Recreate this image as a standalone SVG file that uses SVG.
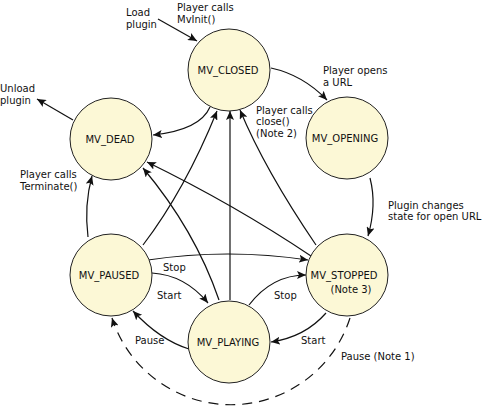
<svg xmlns="http://www.w3.org/2000/svg" width="482" height="407" viewBox="0 0 482 407">
<style>
.st{fill:#fcf8d6;stroke:#222;stroke-width:1}
text{font-family:"DejaVu Sans","Verdana",sans-serif;font-size:10px;fill:#111}
.c{text-anchor:middle}
.e{fill:none;stroke:#111;stroke-width:1.2;marker-end:url(#ah)}
.d{stroke-dasharray:10 7}
</style>
<defs>
<marker id="ah" markerUnits="userSpaceOnUse" markerWidth="10" markerHeight="8" refX="9" refY="4" orient="auto">
<path d="M0,0 L9,4 L0,8 L2,4 z" fill="#111"/>
</marker>
</defs>
<rect width="482" height="407" fill="#fff"/>
<g id="connectors">
<path class="e" d="M158,19 L197,41"/>
<path class="e" d="M73,120 L37,99"/>
<path class="e" d="M210,107 Q200,130 153,135"/>
<path class="e" d="M271,68 Q303,75 327,100"/>
<path class="e" d="M370,178 Q377,205 368,236"/>
<path class="e" d="M88,237 Q84,205 92,176"/>
<path class="e" d="M143,245 Q185,190 217,111"/>
<path class="e" d="M230,300 L230,111"/>
<path class="e" d="M219,300 Q195,230 143,168"/>
<path class="e" d="M311,256 Q235,205 147,162"/>
<path class="e" d="M316,245 Q265,170 240,110"/>
<path class="e" d="M148,260 Q228,248 308,260"/>
<path class="e" d="M152,273 Q185,275 208,303"/>
<path class="e" d="M249,305 Q272,275 306,275"/>
<path class="e" d="M326,313 Q305,337 271,342"/>
<path class="e" d="M189,349 Q160,340 133,311"/>
<path class="e d" d="M350,318 A125,125 0 0 1 112,318"/>
</g>
<g id="n-closed"><circle class="st" cx="229" cy="70" r="41"/><text class="c" x="228" y="73.5">MV_CLOSED</text></g>
<g id="n-dead"><circle class="st" cx="111" cy="139" r="41"/><text class="c" x="110" y="142.5">MV_DEAD</text></g>
<g id="n-opening"><circle class="st" cx="347" cy="138" r="41"/><text class="c" x="345" y="141.5">MV_OPENING</text></g>
<g id="n-paused"><circle class="st" cx="111" cy="275" r="41"/><text class="c" x="109" y="279">MV_PAUSED</text></g>
<g id="n-stopped"><circle class="st" cx="347" cy="275" r="41"/><text class="c" x="344" y="279">MV_STOPPED</text><text class="c" x="351" y="292.5">(Note 3)</text></g>
<g id="n-playing"><circle class="st" cx="229" cy="342" r="41"/><text class="c" x="228" y="346">MV_PLAYING</text></g>
<g id="labels">
<text x="126" y="16">Load</text><text x="126" y="28">plugin</text>
<text x="177" y="11">Player calls</text><text x="177" y="23">MvInit()</text>
<text x="0" y="92">Unload</text><text x="0" y="104">plugin</text>
<text x="323" y="73.5">Player opens</text><text x="323" y="86">a URL</text>
<text x="256" y="113.5">Player calls</text><text x="256" y="125">close()</text><text x="256" y="136.5">(Note 2)</text>
<text x="20" y="177.5">Player calls</text><text x="20" y="189.5">Terminate()</text>
<text x="388" y="208.5">Plugin changes</text><text x="388" y="220">state for open URL</text>
<text x="163" y="270.5">Stop</text>
<text x="157" y="299">Start</text>
<text x="135" y="343.5">Pause</text>
<text x="274" y="299">Stop</text>
<text x="301" y="343.5">Start</text>
<text x="341" y="360">Pause (Note 1)</text>
</g>
</svg>
